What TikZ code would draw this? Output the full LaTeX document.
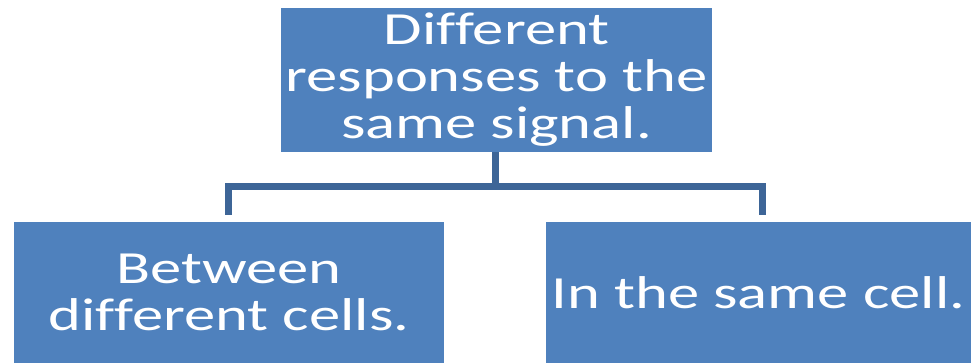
\documentclass[tikz,border=0pt]{standalone}
\usepackage{fontspec}
\setmainfont{Carlito}[FakeStretch=1.36,Ligatures=NoCommon]
\definecolor{boxblue}{HTML}{4F81BD}
\definecolor{connblue}{HTML}{3D6597}
\newcommand{\nolig}{\kern0pt}
\begin{document}
\begin{tikzpicture}[x=1pt,y=-1pt,
  box/.style={rectangle, fill=boxblue, draw=none, text=white, align=center, inner sep=0pt,
    font=\fontsize{46}{47}\selectfont},
  conn/.style={draw=connblue, line width=7pt, line join=miter}]
\useasboundingbox (0,0) rectangle (971,363);
\node[box, minimum width=431pt, minimum height=144pt] (top) at (496.5,80) {Dif\nolig ferent\\responses to the\\same signal.};
\node[box, minimum width=430pt, minimum height=141pt] (left) at (229,292.5) {Between\\dif\nolig ferent cells.};
\node[box, minimum width=425pt, minimum height=141pt] (right) at (758.5,292.5) {In the same cell.};
\coordinate (bar) at (495,187);
\coordinate (lb) at (228,215);
\coordinate (rb) at (762,215);
\draw[conn] (top.south -| bar) -- (bar);
\draw[conn] (lb) -- (lb |- bar) -- (rb |- bar) -- (rb);
\end{tikzpicture}
\end{document}
